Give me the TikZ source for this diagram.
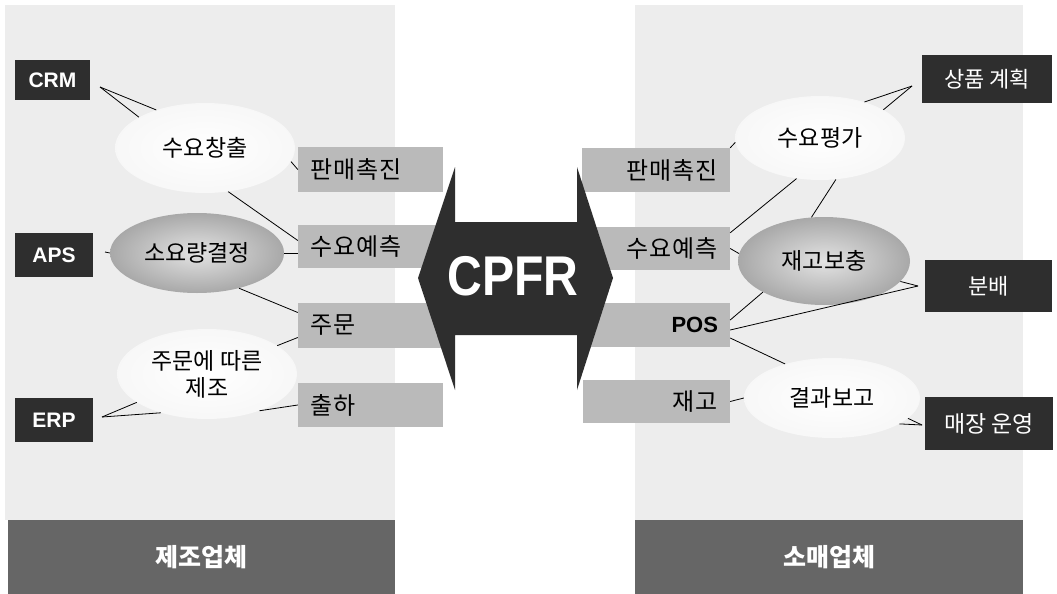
\documentclass[tikz,border=0pt]{standalone}
\usepackage{fontspec}
\setmainfont{Liberation Sans}
\newfontfamily\kr{Noto Sans CJK KR}
\newfontfamily\krs[LetterSpace=5]{Noto Sans CJK KR}
\newfontfamily\cpfrfont[FakeStretch=0.86]{Liberation Sans Bold}
\usetikzlibrary{shapes.geometric}
\begin{document}
\begin{tikzpicture}[x=1pt,y=-1pt,
  panel/.style={fill=gray!14,draw=none},
  band/.style={rectangle,fill=black!60,text=white,inner sep=0pt,font=\kr\bfseries\fontsize{25}{28}\selectfont},
  bar/.style={rectangle,fill=black!27,inner ysep=0pt,inner xsep=12pt,font=\krs\fontsize{24}{26}\selectfont},
  lbar/.style={bar,align=left},
  rbar/.style={bar,align=right},
  dbox/.style={rectangle,fill=black!82,text=white,inner sep=0pt},
  ell/.style={ellipse,inner sep=0pt,font=\kr\fontsize{23}{27}\selectfont},
  well/.style={ell,inner color=white,outer color=gray!6},
  gell/.style={ell,inner color=gray!22,outer color=gray!68},
  link/.style={draw=black,line width=0.8pt},
  arrowfill/.style={fill=black!82}
]
\useasboundingbox (0,0) rectangle (1057,594);
\fill[white] (0,0) rectangle (1057,594);
% panels
\fill[panel] (5,5) rectangle (395,520);
\fill[panel] (635,5) rectangle (1023,520);
\node[band,minimum width=387pt,minimum height=74pt] (mfr) at (201.5,557) {제조업체};
\node[band,minimum width=388pt,minimum height=74pt] (ret) at (829,557) {소매업체};

% bars left
\node[lbar,text width=121pt,minimum height=45pt] (lb1) at (370.5,169.5) {판매촉진};
\node[lbar,text width=148pt,minimum height=43pt] (lb2) at (384,246.5) {수요예측};
\node[lbar,text width=128pt,minimum height=45pt] (lb3) at (374,325.5) {주문};
\node[lbar,text width=121pt,minimum height=44pt] (lb4) at (370.5,405) {출하};
% bars right
\node[rbar,text width=124pt,minimum height=44pt] (rb1) at (656,170) {판매촉진};
\node[rbar,text width=136pt,minimum height=43pt] (rb2) at (650,248.5) {수요예측};
\node[rbar,text width=126pt,minimum height=44pt,font=\bfseries\fontsize{22}{24}\selectfont] (rb3) at (655,325) {POS};
\node[rbar,text width=123pt,minimum height=43pt] (rb4) at (656.5,401.5) {재고};

% CPFR double arrow
\fill[arrowfill] (418,278) -- (455,167) -- (455,222) -- (577,222) -- (577,167) -- (613,278)
  -- (577,390) -- (577,335) -- (455,335) -- (455,390) -- cycle;
\node[text=white,font=\cpfrfont\fontsize{56}{56}\selectfont,inner sep=0pt] (cpfr) at (513,276) {CPFR};

% ellipses
\node[well,minimum width=180pt,minimum height=90pt] (dc) at (205,148) {수요창출};
\node[gell,minimum width=174pt,minimum height=80pt] (sy) at (197,253) {소요량결정};
\node[well,minimum width=180pt,minimum height=90pt,align=center,font=\kr\fontsize{23}{27}\selectfont] (jm) at (207,374) {주문에 따른\\제조};
\node[well,minimum width=170pt,minimum height=84pt] (dv) at (820,138) {수요평가};
\node[gell,minimum width=172pt,minimum height=88pt] (rp) at (824,261) {재고보충};
\node[well,minimum width=176pt,minimum height=80pt] (rr) at (832,398) {결과보고};

% dark boxes
\node[dbox,minimum width=75pt,minimum height=40pt,font=\bfseries\fontsize{21}{23}\selectfont] (crm) at (52.5,80) {CRM};
\node[dbox,minimum width=78pt,minimum height=44pt,font=\bfseries\fontsize{21}{23}\selectfont] (aps) at (54,255) {APS};
\node[dbox,minimum width=78pt,minimum height=44pt,font=\bfseries\fontsize{21}{23}\selectfont] (erp) at (54,420) {ERP};
\node[dbox,minimum width=130pt,minimum height=48pt,font=\kr\fontsize{22}{24}\selectfont] (spg) at (987,79) {상품 계획};
\node[dbox,minimum width=127pt,minimum height=52pt,font=\kr\fontsize{22}{24}\selectfont] (bb) at (988.5,286) {분배};
\node[dbox,minimum width=128pt,minimum height=53pt,font=\kr\fontsize{23}{25}\selectfont] (mj) at (989,423.5) {매장 운영};

% callout apexes
\coordinate (crmA) at (100,87);
\coordinate (apsA) at (105,252);
\coordinate (erpA) at (102,417);
\coordinate (spgA) at (912,86);
\coordinate (bbA) at (918,286);
\coordinate (mjA) at (922,425);

% connectors left
\draw[link] (crmA) -- (dc.142);
\draw[link] (crmA) -- (dc.155);
\draw[link] (dc.-9) -- (lb1.west);
\draw[link] (dc.-62) -- ([yshift=6pt]lb2.west);
\draw[link] (apsA) -- (sy.west);
\draw[link] (sy.east) -- (sy.east -| lb2.west);
\draw[link] (sy.-40) -- ([yshift=13pt]lb3.west);
\draw[link] (jm.22) -- ([yshift=-12pt]lb3.west);
\draw[link] (erpA) -- (jm.202);
\draw[link] (erpA) -- (jm.220);
\draw[link] (jm.-35) -- (lb4.west);

% connectors right
\draw[link] (spgA) -- (dv.39);
\draw[link] (spgA) -- (dv.24);
\draw[link] (rb1.north east) -- (dv.183);
\draw[link] ([yshift=-6pt]rb2.north east) -- (dv.240);
\draw[link] (dv.291) -- (rp.106);
\draw[link] (rb2.east) -- (rp.175);
\draw[link] (rp.207) -- ([yshift=5pt]rb3.east);
\draw[link] (bbA) -- (rp.-15);
\draw[link] (bbA) -- ([yshift=-5pt]rb3.east);
\draw[link] ([yshift=-13pt]rb3.east) -- (rr.144);
\draw[link] (rb4.east) -- (rr.west);
\draw[link] (mjA) -- (rr.-21);
\draw[link] (mjA) -- (rr.-15);
\end{tikzpicture}
\end{document}
